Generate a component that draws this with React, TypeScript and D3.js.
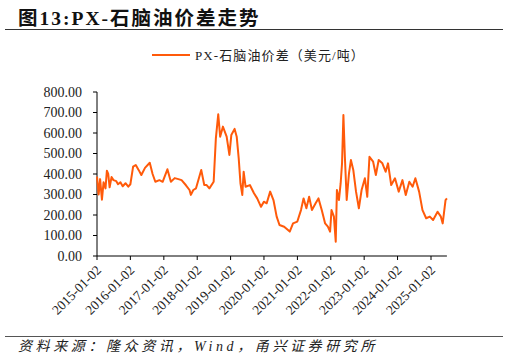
import React from 'react';
import * as d3 from 'd3';

// PX-石脑油价差 (美元/吨)
const dates = [
  '2015-01-02', '2015-01-20', '2015-02-05', '2015-02-25', '2015-03-15', '2015-04-05', '2015-04-20',
  '2015-05-05', '2015-05-20', '2015-06-10', '2015-07-01', '2015-08-01', '2015-08-20', '2015-09-15',
  '2015-10-10', '2015-11-10', '2015-12-10', '2016-01-02', '2016-02-01', '2016-03-01', '2016-04-01',
  '2016-05-01', '2016-06-10', '2016-08-01', '2016-09-01', '2016-10-01', '2016-11-15', '2016-12-20',
  '2017-02-10', '2017-03-20', '2017-05-01', '2017-06-10', '2017-07-15', '2017-09-01', '2017-10-10',
  '2017-10-25', '2017-11-20', '2017-12-20', '2018-02-15', '2018-03-20', '2018-04-15', '2018-05-15',
  '2018-07-01', '2018-07-25', '2018-08-20', '2018-09-10', '2018-10-10', '2018-11-20', '2018-12-20',
  '2019-01-10', '2019-02-15', '2019-03-10', '2019-04-01', '2019-04-20', '2019-05-10', '2019-05-25',
  '2019-06-15', '2019-08-01', '2019-09-15', '2019-10-20', '2019-12-01', '2020-01-01', '2020-02-01',
  '2020-03-10', '2020-04-15', '2020-05-20', '2020-06-20', '2020-08-10', '2020-10-10', '2020-11-15',
  '2021-01-01', '2021-02-10', '2021-03-10', '2021-04-10', '2021-05-10', '2021-06-10', '2021-07-20',
  '2021-08-20', '2021-09-25', '2021-11-01', '2021-12-01', '2021-12-25', '2022-01-10', '2022-02-05',
  '2022-02-25', '2022-03-10', '2022-04-01', '2022-04-20', '2022-05-05', '2022-05-20', '2022-06-05',
  '2022-06-25', '2022-07-20', '2022-08-10', '2022-09-05', '2022-10-05', '2022-11-05', '2022-12-05',
  '2023-01-10', '2023-02-05', '2023-03-01', '2023-04-10', '2023-05-10', '2023-06-10', '2023-07-20',
  '2023-08-25', '2023-09-20', '2023-10-25', '2023-12-05', '2024-01-15', '2024-02-25', '2024-04-01',
  '2024-05-10', '2024-06-15', '2024-07-15', '2024-08-25', '2024-10-01', '2024-11-10', '2024-12-20',
  '2025-01-25', '2025-03-15', '2025-04-20', '2025-05-10', '2025-06-10', '2025-06-25',
];
const spread = [
  387, 300, 375, 275, 360, 330, 416,
  400, 335, 385, 370, 365, 350, 360,
  340, 355, 338, 350, 436, 444, 420,
  395, 430, 455, 400, 362, 370, 362,
  423, 362, 380, 375, 370, 345, 322,
  298, 322, 330, 420, 346, 346, 330,
  362, 574, 691, 582, 631, 582, 493,
  590, 620, 582, 476, 355, 298, 411,
  338, 346, 306, 281, 240, 265, 257,
  314, 273, 192, 151, 143, 119, 159,
  168, 224, 281, 233, 289, 224, 257,
  281, 224, 159, 143, 119, 224, 192,
  70, 322, 273, 355, 452, 688, 484,
  273, 403, 468, 420, 314, 233, 322,
  379, 289, 484, 460, 395, 468, 452,
  411, 452, 346, 379, 314, 370, 298,
  362, 338, 379, 314, 224, 184, 192,
  176, 216, 192, 159, 273, 281,
];
const xTickLabels = [
  '2015-01-02', '2016-01-02', '2017-01-02', '2018-01-02', '2019-01-02', '2020-01-02',
  '2021-01-02', '2022-01-02', '2023-01-02', '2024-01-02', '2025-01-02',
];
const yTicks = [0, 100, 200, 300, 400, 500, 600, 700, 800];

const seriesName = 'PX-石脑油价差（美元/吨）';
const title = '图13:PX-石脑油价差走势';
const source = '资料来源：隆众资讯，Wind，甬兴证券研究所';

const W = 509;
const H = 363;
const LINE = '#FF5A0A';
const SERIF = "'Liberation Serif', 'Noto Sans CJK SC', serif";

export default function App() {
  const parse = d3.timeParse('%Y-%m-%d');
  const pts = dates.map((d, i) => ({ date: parse(d) as Date, v: spread[i] }));

  const x = d3
    .scaleTime()
    .domain([parse(xTickLabels[0]) as Date, parse('2025-01-02') as Date])
    .range([97, 431]);
  const y = d3.scaleLinear().domain([0, 800]).range([256, 92]);
  const xEnd = x(pts[pts.length - 1].date);

  const line = d3
    .line<{ date: Date; v: number }>()
    .x(d => x(d.date))
    .y(d => y(d.v));

  const fmt = d3.format('.2f');

  return (
    <svg
      width={W}
      height={H}
      style={{ position: 'absolute', left: 0, top: 0, background: '#fff' }}
      fontFamily={SERIF}
    >
      <text x={18} y={24.5} fontSize={19.5} fontWeight="bold" fill="#111" letterSpacing={2}>
        {title}
      </text>
      <line x1={5} x2={503} y1={29.5} y2={29.5} stroke="#333" strokeWidth={1} />

      {/* legend */}
      <line x1={152} x2={190} y1={55} y2={55} stroke={LINE} strokeWidth={2} />
      <text x={195} y={59.5} fontSize={13} fill="#222" letterSpacing={1.1}>
        {seriesName}
      </text>

      {/* y axis */}
      <line x1={97} x2={97} y1={y(800)} y2={y(0)} stroke="#000" />
      {yTicks.map(t => (
        <g key={t}>
          <line x1={93} x2={97} y1={y(t)} y2={y(t)} stroke="#000" />
          <text x={82} y={y(t)} dy="0.35em" textAnchor="end" fontSize={14} fill="#222">
            {fmt(t)}
          </text>
        </g>
      ))}

      {/* x axis */}
      <line x1={97} x2={xEnd} y1={y(0)} y2={y(0)} stroke="#000" />
      {xTickLabels.map(l => {
        const tx = x(parse(l) as Date);
        return (
          <g key={l}>
            <line x1={tx} x2={tx} y1={y(0)} y2={y(0) + 4} stroke="#000" />
            <text
              transform={`translate(${tx + 5},${y(0) + 15}) rotate(-45)`}
              textAnchor="end"
              fontSize={13.5}
              fill="#222"
            >
              {l}
            </text>
          </g>
        );
      })}

      <path d={line(pts) || ''} fill="none" stroke={LINE} strokeWidth={2} strokeLinejoin="round" />

      {/* footer */}
      <line x1={5} x2={503} y1={336.5} y2={336.5} stroke="#555" strokeWidth={1} />
      <text x={18} y={351} fontSize={14} fontStyle="italic" fill="#222" letterSpacing={3.6}>
        {source}
      </text>
    </svg>
  );
}
